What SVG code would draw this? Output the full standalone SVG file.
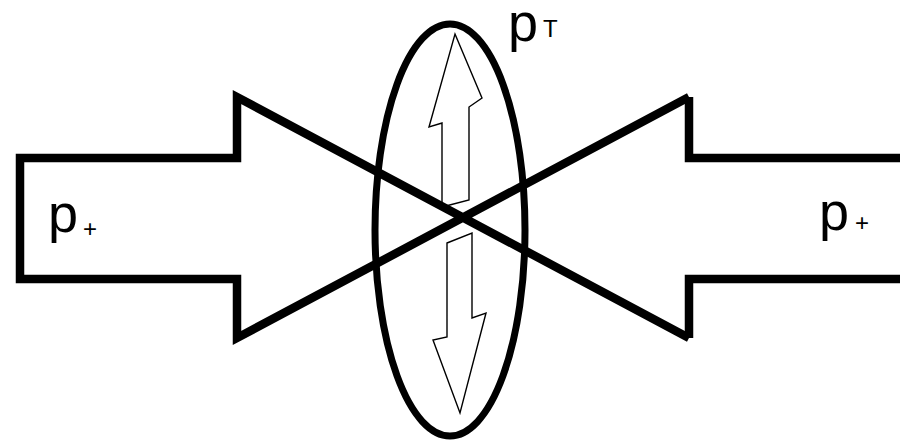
<svg xmlns="http://www.w3.org/2000/svg" width="900" height="443" viewBox="0 0 900 443">
  <style>
    .thick { fill: none; stroke: #000; stroke-width: 8.5; stroke-linejoin: miter; stroke-miterlimit: 10; }
    .thin { fill: none; stroke: #000; stroke-width: 1.4; stroke-linejoin: miter; }
    .lbl { font-family: "Liberation Sans", Arial, sans-serif; fill: #000; }
    .big { font-size: 54px; }
    .sub { font-size: 24px; }
  </style>
  <rect width="900" height="443" fill="#fff"/>
  <g id="connectors">
    <path id="left-arrow" class="thick" d="M689,97 L237,338 L237,279 L20,279 L20,158 L237,158 L237,97 L689,338"/>
    <path id="right-arrow" class="thick" d="M905,158 L689,158 L689,97 M905,279 L689,279 L689,338"/>
  </g>
  <g id="ellipse-node">
    <ellipse cx="450" cy="230" rx="75" ry="206" fill="none" stroke="#000" stroke-width="7"/>
  </g>
  <g id="up-arrow">
    <polygon class="thin" points="455,34 482,98 469,107 469,200 442,207 442,123 429,127"/>
  </g>
  <g id="down-arrow">
    <polygon class="thin" points="447,243 472,233 472,318 486,313 460,413 433,340 447,337"/>
  </g>
  <g id="label-left">
    <text class="lbl big" x="48" y="232">p</text>
    <text class="lbl sub" x="83" y="237">+</text>
  </g>
  <g id="label-right">
    <text class="lbl big" x="819" y="230">p</text>
    <text class="lbl sub" x="855" y="231">+</text>
  </g>
  <g id="label-top">
    <text class="lbl big" x="508" y="41">p</text>
    <text class="lbl sub" x="543" y="37">T</text>
  </g>
</svg>
